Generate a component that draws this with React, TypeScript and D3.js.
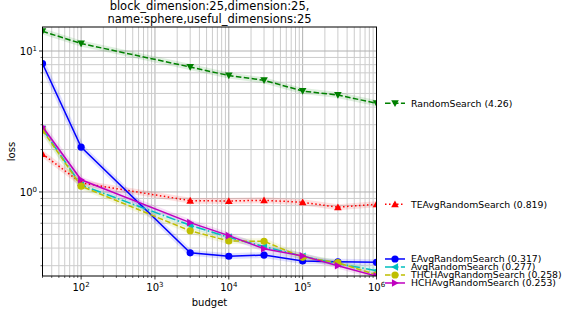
import React from "react";
import { scaleLog, line } from "d3";

// budgets on the x axis
const budgets = [30, 100, 3000, 10000, 30000, 100000, 300000, 1000000];

// loss per optimizer
const randomSearch = [13.8, 11.3, 7.7, 6.7, 6.2, 5.2, 4.87, 4.26];
const teAvgRandomSearch = [1.86, 1.16, 0.868, 0.863, 0.873, 0.845, 0.78, 0.819];
const eAvgRandomSearch = [8.15, 2.08, 0.37, 0.35, 0.357, 0.324, 0.32, 0.317];
const avgRandomSearch = [2.8, 1.12, 0.58, 0.477, 0.41, 0.35, 0.31, 0.277];
const thchAvgRandomSearch = [2.75, 1.1, 0.53, 0.449, 0.447, 0.344, 0.315, 0.258];
const hchAvgRandomSearch = [2.9, 1.22, 0.606, 0.49, 0.396, 0.352, 0.3, 0.253];

const seriesNames = [
  "RandomSearch",
  "TEAvgRandomSearch",
  "EAvgRandomSearch",
  "AvgRandomSearch",
  "THCHAvgRandomSearch",
  "HCHAvgRandomSearch",
];
const seriesValues = [
  randomSearch,
  teAvgRandomSearch,
  eAvgRandomSearch,
  avgRandomSearch,
  thchAvgRandomSearch,
  hchAvgRandomSearch,
];
const finalLabels = ["4.26", "0.819", "0.317", "0.277", "0.258", "0.253"];

const titleLines = [
  "block_dimension:25,dimension:25,",
  "name:sphere,useful_dimensions:25",
];

type Style = { color: string; dash: string; marker: string };
const styles: Style[] = [
  { color: "#008000", dash: "5.55,2.4", marker: "tridown" },
  { color: "#ff0000", dash: "1.5,2.5", marker: "triup" },
  { color: "#0000ff", dash: "", marker: "circle" },
  { color: "#00bfbf", dash: "9.6,2.4,1.5,2.4", marker: "trileft" },
  { color: "#bfbf00", dash: "5.55,2.4", marker: "circle" },
  { color: "#bf00bf", dash: "", marker: "triright" },
];

const W = 574;
const H = 312;
const LEFT = 42.5;
const RIGHT = 376.5;
const TOP = 27;
const BOTTOM = 276;
const FONT = "DejaVu Sans, sans-serif";

const x = scaleLog().domain([30, 1e6]).range([LEFT, RIGHT]);
const y = scaleLog().domain([0.2535, 14.8]).range([BOTTOM, TOP]);

const isMajor = (v: number) => Math.abs(Math.log10(v) - Math.round(Math.log10(v))) < 1e-9;

const Marker = ({ kind, cx, cy, color }: { kind: string; cx: number; cy: number; color: string }) => {
  const s = 3.8;
  if (kind === "circle") return <circle cx={cx} cy={cy} r={3.6} fill={color} />;
  let pts: number[][] = [];
  if (kind === "tridown") pts = [[-s, -s * 0.8], [s, -s * 0.8], [0, s]];
  if (kind === "triup") pts = [[-s, s * 0.8], [s, s * 0.8], [0, -s]];
  if (kind === "trileft") pts = [[s * 0.8, -s], [s * 0.8, s], [-s, 0]];
  if (kind === "triright") pts = [[-s * 0.8, -s], [-s * 0.8, s], [s, 0]];
  return <polygon points={pts.map((p) => `${cx + p[0]},${cy + p[1]}`).join(" ")} fill={color} />;
};

// spread the end labels so they don't collide
const labelY = (() => {
  const ends = seriesValues.map((vals, i) => ({ i, y: y(vals[vals.length - 1]) }));
  ends.sort((a, b) => a.y - b.y);
  const gap = 8;
  let groups: { items: { i: number; y: number }[] }[] = ends.map((e) => ({ items: [e] }));
  let changed = true;
  const pos = (g: { items: { i: number; y: number }[] }) => {
    const mean = g.items.reduce((s, e) => s + e.y, 0) / g.items.length;
    const start = mean - ((g.items.length - 1) * gap) / 2;
    return g.items.map((_, k) => start + k * gap);
  };
  while (changed) {
    changed = false;
    for (let k = 0; k < groups.length - 1; k++) {
      const a = pos(groups[k]);
      const b = pos(groups[k + 1]);
      if (b[0] - a[a.length - 1] < gap) {
        groups[k] = { items: [...groups[k].items, ...groups[k + 1].items] };
        groups.splice(k + 1, 1);
        changed = true;
        break;
      }
    }
  }
  const out: number[] = [];
  groups.forEach((g) => {
    const p = pos(g);
    g.items.forEach((e, k) => (out[e.i] = p[k]));
  });
  return out;
})();

const Pow = ({ base, exp, ...rest }: any) => (
  <text {...rest} fontFamily={FONT} fontSize={10} fill="#000">
    {base}
    <tspan fontSize={7} dy={-4}>
      {exp}
    </tspan>
  </text>
);

export default function App() {
  const xTicks = x.ticks().filter((t) => t >= 30 && t <= 1e6);
  const yTicks = y.ticks().filter((t) => t >= 0.2535 && t <= 14.8);
  const path = line<number>()
    .x((_, i) => x(budgets[i]))
    .y((d) => y(d));

  return (
    <svg width={W} height={H} style={{ position: "absolute", left: 0, top: 0 }}>
      <rect width={W} height={H} fill="#fff" />
      {/* grid */}
      {xTicks.map((t) => (
        <line key={"gx" + t} x1={x(t)} x2={x(t)} y1={TOP} y2={BOTTOM}
          stroke={isMajor(t) ? "#b0b0b0" : "#cccccc"} strokeWidth={1} />
      ))}
      {yTicks.map((t) => (
        <line key={"gy" + t} x1={LEFT} x2={RIGHT} y1={y(t)} y2={y(t)}
          stroke={isMajor(t) ? "#b0b0b0" : "#cccccc"} strokeWidth={1} />
      ))}
      <defs>
        <clipPath id="plot">
          <rect x={LEFT} y={TOP} width={RIGHT - LEFT} height={BOTTOM - TOP} />
        </clipPath>
      </defs>
      {/* series */}
      <g clipPath="url(#plot)">
        {seriesValues.map((vals, i) => (
          <path key={"h" + i} d={path(vals) || ""} fill="none" stroke={styles[i].color}
            strokeOpacity={0.12} strokeWidth={6} strokeLinejoin="round" />
        ))}
        {seriesValues.map((vals, i) => (
          <g key={"s" + i}>
            <path d={path(vals) || ""} fill="none" stroke={styles[i].color} strokeWidth={1.5}
              strokeDasharray={styles[i].dash} />
            {vals.map((v, j) => (
              <Marker key={j} kind={styles[i].marker} cx={x(budgets[j])} cy={y(v)} color={styles[i].color} />
            ))}
          </g>
        ))}
      </g>
      {/* axes frame */}
      <rect x={LEFT} y={TOP} width={RIGHT - LEFT} height={BOTTOM - TOP} fill="none" stroke="#000" strokeWidth={1} />
      {xTicks.map((t) => (
        <line key={"tx" + t} x1={x(t)} x2={x(t)} y1={BOTTOM} y2={BOTTOM + (isMajor(t) ? 3.5 : 2)} stroke="#000" strokeWidth={isMajor(t) ? 0.8 : 0.6} />
      ))}
      {yTicks.map((t) => (
        <line key={"ty" + t} x1={LEFT} x2={LEFT - (isMajor(t) ? 3.5 : 2)} y1={y(t)} y2={y(t)} stroke="#000" strokeWidth={isMajor(t) ? 0.8 : 0.6} />
      ))}
      {xTicks.filter(isMajor).map((t) => (
        <Pow key={"lx" + t} base="10" exp={Math.round(Math.log10(t))} x={x(t)} y={291} textAnchor="middle" />
      ))}
      {yTicks.filter(isMajor).map((t) => (
        <Pow key={"ly" + t} base="10" exp={Math.round(Math.log10(t))} x={37} y={y(t) + 4} textAnchor="end" />
      ))}
      <text x={(LEFT + RIGHT) / 2} y={306} textAnchor="middle" fontFamily={FONT} fontSize={10}>budget</text>
      <text transform={`translate(15,${(TOP + BOTTOM) / 2}) rotate(-90)`} textAnchor="middle" fontFamily={FONT} fontSize={10}>loss</text>
      {titleLines.map((s, i) => (
        <text key={"t" + i} x={(LEFT + RIGHT) / 2} y={10 + i * 13} textAnchor="middle" fontFamily={FONT} fontSize={11.5}>{s}</text>
      ))}
      {/* end-of-line labels */}
      {seriesNames.map((name, i) => (
        <g key={"lg" + i}>
          <line x1={385} x2={405} y1={labelY[i]} y2={labelY[i]} stroke={styles[i].color} strokeWidth={1.5}
            strokeDasharray={styles[i].dash} />
          <Marker kind={styles[i].marker} cx={395} cy={labelY[i]} color={styles[i].color} />
          <text x={411} y={labelY[i] + 3.4} fontFamily={FONT} fontSize={9.3}>{`${name} (${finalLabels[i]})`}</text>
        </g>
      ))}
    </svg>
  );
}
